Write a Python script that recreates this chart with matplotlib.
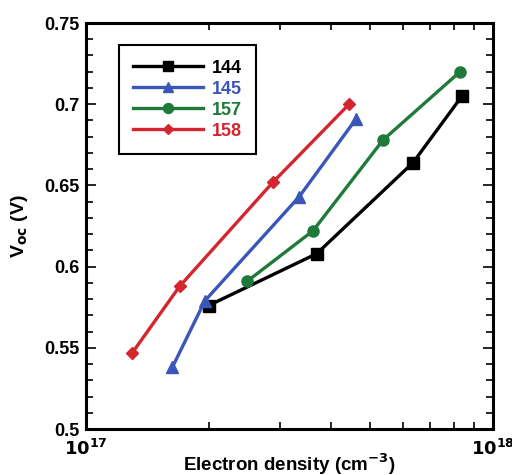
import matplotlib
matplotlib.use("Agg")
import matplotlib.pyplot as plt
from matplotlib.ticker import LogLocator, MultipleLocator, FixedFormatter, FixedLocator

plt.rcParams["font.family"] = ["Liberation Sans", "DejaVu Sans"]
plt.rcParams["font.weight"] = "bold"
plt.rcParams["mathtext.default"] = "bf"

# sample data: electron density (cm^-3) vs open-circuit voltage (V)
n_144 = [2.0e17, 3.69e17, 6.36e17, 8.39e17]
voc_144 = [0.576, 0.608, 0.664, 0.705]

n_145 = [1.63e17, 1.96e17, 3.34e17, 4.61e17]
voc_145 = [0.538, 0.579, 0.643, 0.691]

n_157 = [2.49e17, 3.61e17, 5.37e17, 8.30e17]
voc_157 = [0.591, 0.622, 0.678, 0.720]

n_158 = [1.30e17, 1.70e17, 2.88e17, 4.43e17]
voc_158 = [0.547, 0.588, 0.652, 0.700]

series = [
    ("144", n_144, voc_144, "black", "s", 8),
    ("145", n_145, voc_145, "#3a56b8", "^", 8),
    ("157", n_157, voc_157, "#1f7a3a", "o", 8),
    ("158", n_158, voc_158, "#d3262e", "D", 6),
]

fig = plt.figure(figsize=(5.12, 4.75), dpi=100)
ax = fig.add_axes([86 / 512, 46 / 475, 407 / 512, 406 / 475])

for label, n, v, color, marker, ms in series:
    ax.plot(n, v, color=color, marker=marker, markersize=ms, lw=2.4, label=label)

ax.set_xscale("log")
ax.set_xlim(1e17, 1e18)
ax.set_ylim(0.5, 0.75)

ax.xaxis.set_major_locator(FixedLocator([1e17, 1e18]))
ax.xaxis.set_major_formatter(FixedFormatter(["$10^{17}$", "$10^{18}$"]))
ax.xaxis.set_minor_locator(LogLocator(base=10, subs=range(2, 10)))
ax.xaxis.set_minor_formatter(FixedFormatter([]))

ax.yaxis.set_minor_locator(MultipleLocator(0.01))
ax.set_yticks([0.5, 0.55, 0.6, 0.65, 0.7, 0.75])
ax.set_yticklabels(["0.5", "0.55", "0.6", "0.65", "0.7", "0.75"])

ax.tick_params(which="both", direction="in", top=True, right=True,
               labelsize=13, width=1.2)
ax.tick_params(which="major", length=7)
ax.tick_params(which="minor", length=5)
ax.tick_params(axis="x", which="major", pad=7)
ax.tick_params(axis="y", which="major", pad=5)
for lbl in ax.get_yticklabels() + ax.get_xticklabels():
    lbl.set_fontweight("bold")

for sp in ax.spines.values():
    sp.set_linewidth(2.2)

ax.set_xlabel("Electron density (cm$^{-3}$)", fontsize=13.5, fontweight="bold", labelpad=-5)
ax.set_ylabel("V$_{\\mathbf{oc}}$ (V)", fontsize=14, fontweight="bold", labelpad=10)

leg = ax.legend(loc="upper left", bbox_to_anchor=(0.08, 0.945), fontsize=13,
                handlelength=3.9, handletextpad=0.45, labelspacing=0.22,
                borderpad=0.8, borderaxespad=0, fancybox=False, framealpha=1,
                edgecolor="black", markerscale=0.9)
leg.get_frame().set_linewidth(1.5)
for txt, (_, _, _, color, _, _) in zip(leg.get_texts(), series):
    txt.set_color(color)
    txt.set_fontweight("bold")

fig.savefig("out.png", dpi=100)
